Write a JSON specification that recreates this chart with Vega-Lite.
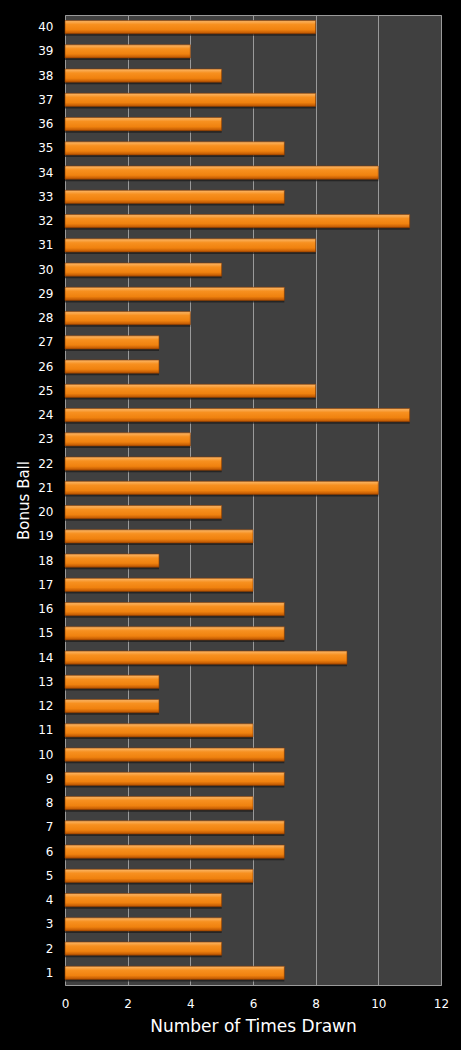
{
  "$schema": "https://vega.github.io/schema/vega-lite/v6.json",
  "autosize": "none",
  "width": 376,
  "height": 970,
  "padding": {"left": 65, "top": 15, "right": 20, "bottom": 65},
  "background": "#000000",
  "data": {
    "values": [
      {"ball": 1, "count": 7}, {"ball": 2, "count": 5}, {"ball": 3, "count": 5}, {"ball": 4, "count": 5},
      {"ball": 5, "count": 6}, {"ball": 6, "count": 7}, {"ball": 7, "count": 7}, {"ball": 8, "count": 6},
      {"ball": 9, "count": 7}, {"ball": 10, "count": 7}, {"ball": 11, "count": 6}, {"ball": 12, "count": 3},
      {"ball": 13, "count": 3}, {"ball": 14, "count": 9}, {"ball": 15, "count": 7}, {"ball": 16, "count": 7},
      {"ball": 17, "count": 6}, {"ball": 18, "count": 3}, {"ball": 19, "count": 6}, {"ball": 20, "count": 5},
      {"ball": 21, "count": 10}, {"ball": 22, "count": 5}, {"ball": 23, "count": 4}, {"ball": 24, "count": 11},
      {"ball": 25, "count": 8}, {"ball": 26, "count": 3}, {"ball": 27, "count": 3}, {"ball": 28, "count": 4},
      {"ball": 29, "count": 7}, {"ball": 30, "count": 5}, {"ball": 31, "count": 8}, {"ball": 32, "count": 11},
      {"ball": 33, "count": 7}, {"ball": 34, "count": 10}, {"ball": 35, "count": 7}, {"ball": 36, "count": 5},
      {"ball": 37, "count": 8}, {"ball": 38, "count": 5}, {"ball": 39, "count": 4}, {"ball": 40, "count": 8}
    ]
  },
  "encoding": {
    "y": {
      "field": "ball",
      "type": "ordinal",
      "sort": "descending",
      "title": "Bonus Ball",
      "scale": {"paddingInner": 0.46, "paddingOuter": 0.23},
      "axis": {
        "ticks": false,
        "domain": false,
        "labelPadding": 12,
        "labelColor": "#ffffff",
        "labelFont": "DejaVu Sans",
        "labelFontSize": 12,
        "titleColor": "#ffffff",
        "titleFont": "DejaVu Sans",
        "titleFontSize": 15,
        "titleFontWeight": "normal",
        "titlePadding": 6
      }
    },
    "x": {
      "field": "count",
      "type": "quantitative",
      "title": "Number of Times Drawn",
      "scale": {"domain": [0, 12], "nice": false},
      "axis": {
        "values": [0, 2, 4, 6, 8, 10, 12],
        "ticks": false,
        "domain": false,
        "grid": true,
        "gridColor": "#9a9a9a",
        "gridWidth": 1,
        "labelFlush": false,
        "labelPadding": 13,
        "labelColor": "#ffffff",
        "labelFont": "DejaVu Sans",
        "labelFontSize": 12,
        "titleColor": "#ffffff",
        "titleFont": "DejaVu Sans",
        "titleFontSize": 17,
        "titleFontWeight": "normal",
        "titlePadding": 9
      }
    }
  },
  "layer": [
    {
      "mark": {"type": "bar", "color": "#1a1a1a", "opacity": 0.7, "yOffset": 2, "x2Offset": 2}
    },
    {
      "mark": {
        "type": "bar",
        "stroke": "#8a3c00",
        "strokeWidth": 0.6,
        "color": {
          "gradient": "linear",
          "x1": 0, "y1": 0, "x2": 0, "y2": 1,
          "stops": [
            {"offset": 0, "color": "#fbb86a"},
            {"offset": 0.3, "color": "#f7901f"},
            {"offset": 0.7, "color": "#f0820f"},
            {"offset": 1, "color": "#b85200"}
          ]
        }
      }
    }
  ],
  "config": {
    "view": {"fill": "#404040", "stroke": "#9a9a9a", "strokeWidth": 1}
  }
}
